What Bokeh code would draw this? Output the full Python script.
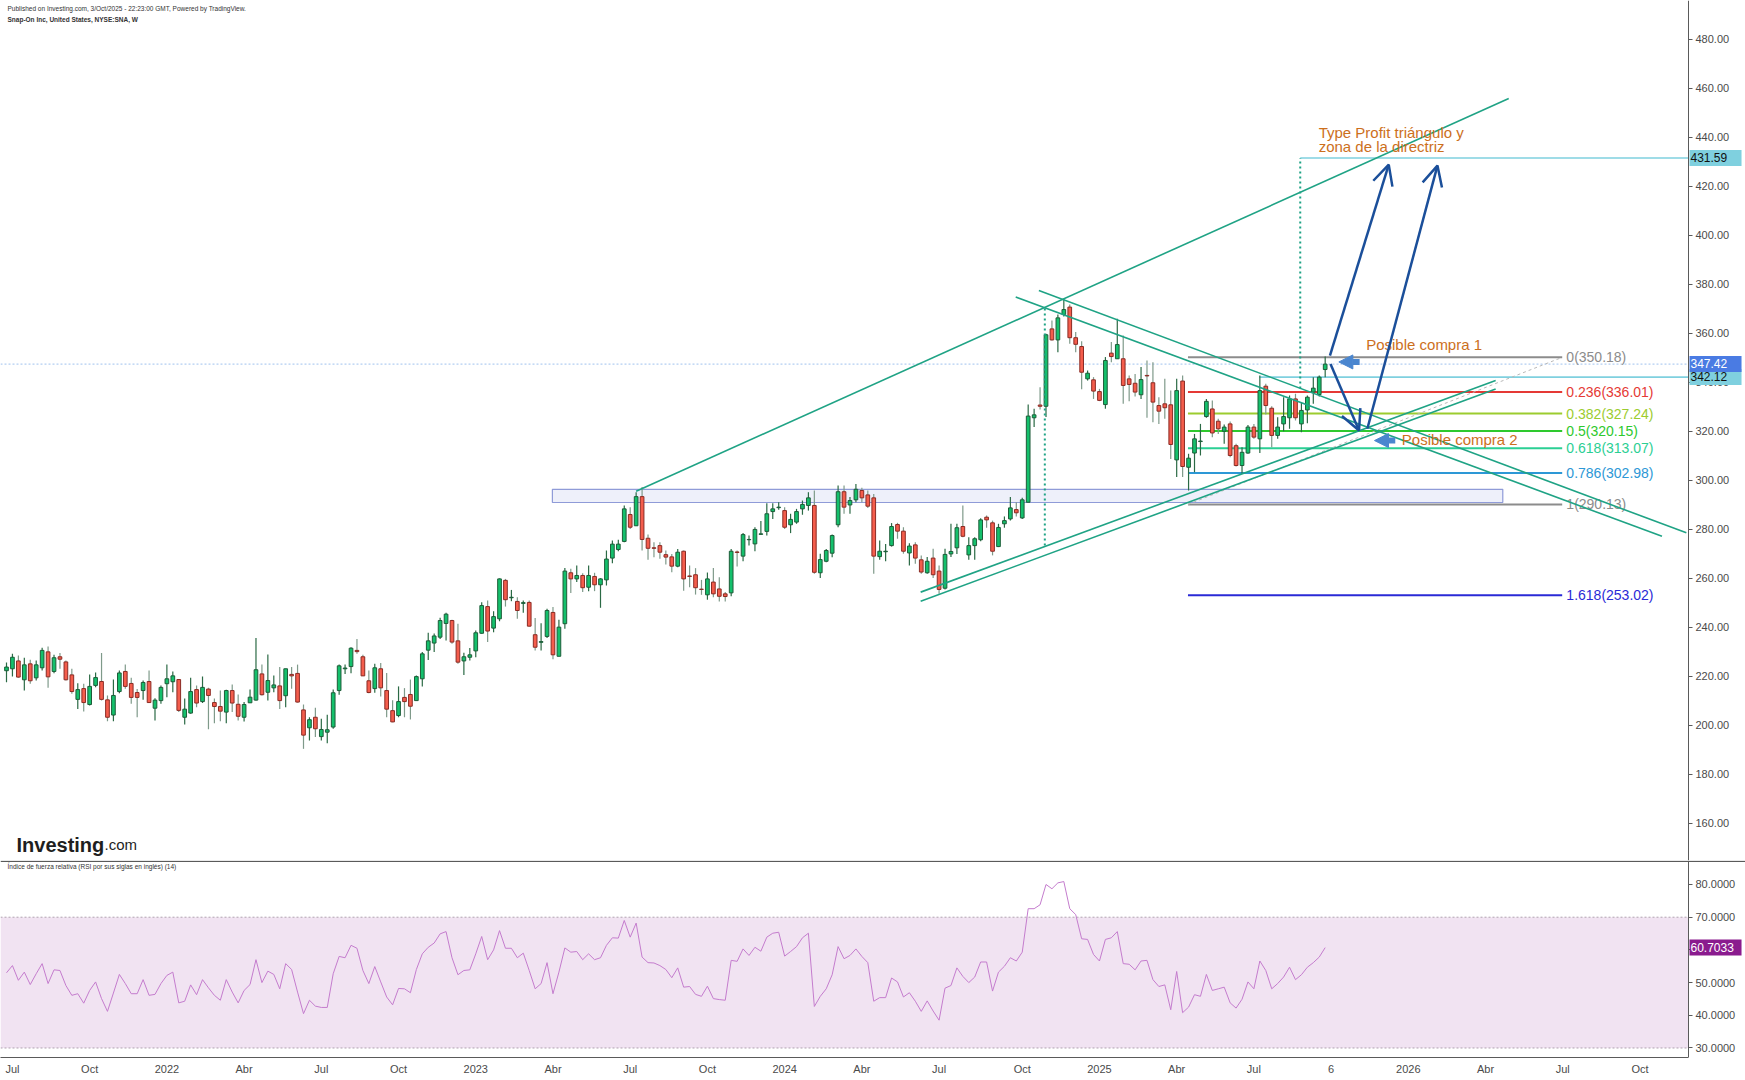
from bokeh.plotting import figure
from bokeh.models import (Range1d, FixedTicker, NumeralTickFormatter, Label, Span, LinearAxis,
                          BoxAnnotation, ColumnDataSource, Arrow, OpenHead, NormalHead)
from bokeh.layouts import column
from bokeh.embed import file_html
from bokeh.resources import INLINE
from bokeh.core.properties import value

FONT = "Liberation Sans"

# Weekly bars of Snap-On (NYSE:SNA); week index 0 = week of 2021-06-28
opens = [
    222.2, 223.0, 226.2, 218.5, 225.0, 219.3, 223.4, 229.9, 221.9, 227.9,
    225.8, 220.5, 210.5, 214.9, 208.4, 216.2, 217.8, 210.3, 204.1, 213.7,
    221.9, 217.0, 213.3, 214.1, 217.8, 206.9, 210.0, 216.9, 217.7, 218.6,
    203.2, 204.9, 214.5, 209.6, 214.7, 209.2, 207.6, 205.3, 214.1, 208.5,
    203.2, 209.1, 210.2, 220.9, 213.4, 215.2, 216.0, 212.0, 220.7, 221.1,
    206.2, 198.9, 203.2, 195.3, 197.1, 199.2, 214.1, 223.0, 223.9, 230.5,
    227.9, 218.1, 214.9, 223.0, 214.1, 205.9, 203.9, 211.3, 212.5, 210.0,
    218.9, 230.6, 233.5, 235.9, 241.5, 242.7, 234.4, 226.2, 227.7, 230.3,
    237.5, 248.4, 239.6, 243.4, 259.1, 252.0, 250.5, 249.7, 250.1, 236.9,
    233.8, 236.2, 246.0, 228.1, 241.4, 262.2, 259.7, 261.1, 256.3, 260.7,
    257.3, 259.3, 268.2, 271.7, 275.0, 286.0, 281.4, 293.3, 276.3, 272.4,
    273.3, 269.6, 268.7, 264.9, 271.0, 260.9, 261.4, 255.5, 253.2, 258.4,
    255.6, 253.6, 254.0, 270.7, 269.0, 275.7, 274.0, 277.9, 279.1, 287.2,
    288.8, 287.6, 281.8, 282.9, 288.3, 289.7, 289.7, 262.2, 266.9, 270.2,
    281.8, 295.3, 289.9, 292.0, 295.8, 294.0, 292.8, 268.8, 270.8, 273.3,
    281.9, 279.2, 270.3, 273.6, 267.5, 262.2, 268.2, 262.9, 255.9, 269.9,
    272.4, 281.1, 269.5, 273.3, 275.7, 284.9, 282.6, 272.9, 282.2, 284.2,
    288.0, 284.6, 291.0, 325.5, 330.7, 330.2, 361.8, 357.3, 367.7, 370.7,
    358.2, 354.6, 341.4, 341.0, 336.2, 330.9, 351.9, 349.6, 349.6, 341.4,
    339.6, 334.9, 342.8, 339.8, 330.5, 331.2, 330.8, 308.3, 340.5, 305.3,
    311.1, 315.8, 326.0, 329.1, 324.1, 320.0, 323.0, 314.1, 306.0, 311.1,
    321.7, 316.9, 338.4, 329.4, 318.3, 323.0, 325.5, 333.2, 323.0, 328.7,
    336.0, 335.0, 345.2]

highs = [
    225.6, 229.1, 228.4, 227.5, 226.7, 226.4, 231.6, 232.1, 228.7, 229.4,
    226.4, 223.0, 217.1, 216.9, 220.7, 221.5, 229.4, 212.1, 218.6, 222.3,
    224.7, 219.3, 214.7, 218.2, 222.3, 211.0, 216.2, 224.7, 221.9, 218.6,
    210.9, 219.3, 216.2, 219.8, 215.2, 210.9, 214.1, 214.4, 216.6, 212.5,
    209.4, 214.5, 235.6, 224.7, 228.8, 220.3, 223.7, 223.0, 223.7, 224.7,
    208.4, 203.2, 207.1, 202.6, 204.2, 214.5, 224.7, 224.7, 231.8, 235.2,
    228.7, 222.3, 225.0, 225.4, 221.3, 210.1, 215.8, 215.1, 218.6, 220.2,
    229.8, 237.7, 237.4, 243.8, 245.9, 243.0, 241.4, 229.5, 231.5, 238.6,
    250.2, 250.9, 246.5, 259.9, 259.7, 255.2, 252.2, 250.9, 250.9, 243.7,
    241.6, 247.5, 248.2, 243.0, 264.2, 263.8, 265.2, 262.0, 265.2, 262.2,
    260.0, 271.3, 275.4, 275.7, 289.7, 289.0, 295.1, 297.2, 277.8, 274.7,
    274.7, 271.3, 269.9, 271.9, 271.3, 265.2, 264.1, 259.3, 262.3, 264.2,
    260.4, 254.3, 271.9, 271.3, 278.4, 277.4, 280.8, 283.3, 290.6, 290.6,
    291.0, 289.0, 286.3, 288.3, 291.7, 295.1, 295.8, 270.0, 271.9, 277.8,
    297.8, 297.8, 293.1, 298.5, 296.9, 295.8, 294.4, 275.4, 274.0, 282.5,
    282.6, 280.8, 274.3, 274.7, 269.3, 268.6, 272.0, 265.2, 272.0, 282.2,
    282.2, 289.7, 276.7, 276.7, 284.5, 285.6, 283.5, 282.2, 285.2, 293.1,
    291.0, 292.8, 330.9, 329.2, 338.0, 359.8, 365.2, 367.7, 374.1, 371.8,
    360.5, 356.8, 344.8, 342.1, 337.3, 350.3, 356.4, 365.9, 359.1, 342.8,
    343.4, 346.2, 348.9, 348.2, 333.9, 341.4, 336.6, 341.4, 342.8, 310.8,
    318.9, 323.0, 333.2, 332.6, 325.1, 322.8, 324.0, 314.9, 313.5, 322.6,
    323.0, 342.8, 339.4, 330.2, 325.7, 333.9, 334.6, 335.3, 331.9, 334.6,
    342.1, 342.8, 350.5]

lows = [
    217.5, 219.8, 219.3, 214.1, 216.9, 218.2, 222.3, 215.2, 221.2, 223.0,
    218.2, 212.8, 206.6, 205.6, 208.0, 215.5, 210.0, 201.6, 201.6, 213.0,
    214.8, 208.7, 203.2, 210.3, 209.0, 201.9, 208.7, 211.4, 213.4, 205.3,
    200.2, 204.6, 207.3, 209.0, 198.3, 200.8, 201.6, 200.8, 205.3, 201.9,
    201.5, 209.0, 210.0, 212.1, 210.0, 213.4, 206.6, 207.3, 214.8, 209.2,
    190.3, 193.7, 195.1, 193.7, 192.6, 198.5, 212.4, 220.9, 221.2, 229.1,
    220.0, 213.0, 213.2, 211.7, 203.2, 201.2, 203.2, 203.2, 202.3, 210.0,
    215.8, 226.6, 229.8, 235.2, 234.5, 233.2, 225.0, 220.5, 226.4, 227.7,
    237.3, 233.9, 237.9, 242.4, 248.4, 250.6, 243.4, 245.9, 240.3, 230.5,
    230.5, 235.6, 226.9, 228.1, 239.3, 253.9, 258.4, 254.3, 254.7, 254.7,
    247.9, 257.0, 266.1, 271.0, 274.7, 280.1, 281.4, 271.3, 267.5, 268.5,
    267.9, 265.6, 262.4, 264.5, 254.9, 256.3, 253.3, 253.2, 251.2, 252.2,
    250.5, 250.5, 252.6, 264.8, 266.9, 273.3, 271.0, 277.8, 277.4, 284.2,
    287.9, 280.1, 278.4, 282.2, 285.9, 287.6, 261.8, 260.1, 266.5, 268.5,
    280.8, 286.3, 286.3, 291.0, 291.0, 288.7, 261.8, 267.5, 266.9, 272.9,
    276.1, 270.0, 265.2, 265.9, 261.8, 261.8, 260.1, 253.6, 255.4, 268.6,
    269.9, 276.7, 267.5, 267.5, 275.1, 280.6, 269.3, 272.7, 280.6, 283.5,
    285.2, 284.2, 291.0, 321.7, 328.9, 325.8, 357.1, 352.3, 366.9, 355.7,
    352.3, 337.1, 340.7, 333.2, 332.3, 329.2, 348.2, 349.6, 331.2, 332.3,
    334.2, 333.2, 325.5, 323.7, 323.0, 325.1, 308.7, 301.3, 301.3, 295.8,
    303.3, 310.1, 325.5, 317.5, 318.9, 314.9, 309.4, 305.6, 302.6, 310.8,
    316.9, 311.1, 326.8, 313.5, 316.9, 320.0, 321.0, 324.4, 319.6, 323.3,
    331.2, 334.2, 342.1]

closes = [
    223.7, 227.7, 219.6, 224.6, 218.1, 224.6, 230.5, 219.7, 227.5, 226.9,
    218.5, 213.7, 214.5, 209.2, 215.8, 219.4, 210.5, 203.2, 212.1, 221.3,
    215.8, 211.3, 211.3, 217.4, 209.2, 210.2, 215.4, 218.9, 220.1, 206.0,
    206.5, 213.7, 209.0, 215.4, 212.1, 207.6, 205.7, 214.1, 209.0, 203.6,
    208.4, 211.4, 222.6, 212.4, 218.2, 216.4, 210.0, 223.0, 220.1, 209.4,
    195.9, 202.2, 198.5, 198.2, 198.1, 213.2, 224.2, 223.3, 231.4, 230.0,
    220.1, 213.3, 223.4, 215.2, 206.5, 201.3, 209.6, 209.6, 207.7, 219.8,
    229.1, 234.4, 236.4, 242.7, 245.3, 233.9, 225.7, 227.9, 228.7, 237.7,
    248.8, 238.4, 244.3, 259.7, 251.2, 252.2, 246.8, 250.0, 240.4, 231.8,
    234.1, 246.8, 228.7, 240.0, 262.9, 259.7, 261.1, 256.1, 261.1, 257.3,
    259.7, 267.8, 273.9, 273.9, 288.3, 280.8, 293.3, 275.8, 272.2, 272.2,
    270.6, 268.6, 264.9, 270.6, 259.7, 260.7, 256.1, 255.4, 259.7, 253.6,
    252.6, 252.5, 271.0, 270.5, 277.8, 275.8, 279.9, 278.1, 286.3, 288.3,
    289.0, 280.8, 284.0, 287.2, 290.1, 292.8, 262.4, 267.6, 271.3, 277.4,
    295.3, 289.0, 291.7, 296.3, 292.8, 289.4, 269.0, 271.0, 271.0, 281.1,
    279.2, 271.0, 273.1, 268.2, 262.5, 266.9, 261.4, 255.4, 269.7, 270.9,
    280.6, 277.1, 273.3, 276.1, 283.8, 283.8, 271.0, 280.7, 283.5, 288.7,
    286.7, 292.0, 326.2, 326.7, 330.2, 359.4, 357.3, 366.3, 369.7, 358.2,
    355.5, 344.1, 343.7, 336.4, 332.6, 348.9, 350.5, 355.4, 338.7, 339.1,
    336.0, 341.1, 342.6, 331.9, 328.2, 329.6, 314.6, 336.6, 305.6, 309.0,
    316.9, 316.0, 332.2, 319.3, 321.0, 321.7, 310.1, 306.0, 311.4, 321.7,
    317.6, 336.6, 330.5, 318.3, 321.7, 326.0, 333.2, 325.5, 328.5, 333.9,
    337.6, 342.1, 347.42]

rsi_values = [
    53.0, 55.2, 50.7, 53.2, 49.4, 52.7, 55.8, 49.7, 53.9, 53.7,
    49.1, 46.1, 46.6, 43.7, 47.6, 50.2, 45.1, 41.2, 46.8, 52.5,
    49.7, 46.6, 46.6, 50.9, 46.1, 46.4, 49.7, 52.2, 53.2, 43.8,
    44.3, 49.3, 46.3, 50.9, 48.4, 46.1, 44.6, 50.9, 47.1, 43.8,
    47.6, 49.4, 57.0, 50.0, 53.5, 52.5, 48.1, 55.8, 54.0, 47.1,
    40.5, 44.6, 42.8, 42.4, 42.4, 52.7, 58.0, 57.6, 61.4, 60.5,
    53.7, 49.7, 54.9, 50.2, 45.6, 43.2, 48.2, 48.1, 46.9, 54.0,
    58.8, 60.8, 62.1, 64.9, 65.6, 57.6, 52.4, 53.7, 53.9, 58.8,
    64.1, 57.0, 60.0, 65.9, 60.5, 60.5, 57.6, 59.0, 53.7, 48.1,
    49.7, 56.1, 46.6, 53.2, 60.6, 59.3, 59.5, 57.0, 58.8, 57.0,
    57.6, 61.4, 63.7, 63.6, 69.0, 63.9, 68.2, 57.8, 56.1, 56.0,
    55.2, 54.0, 51.5, 54.5, 48.6, 48.8, 46.4, 45.8, 48.9, 45.1,
    44.8, 44.6, 56.8, 56.5, 60.3, 58.3, 60.8, 59.6, 63.9, 65.1,
    65.4, 58.1, 59.5, 61.0, 63.7, 65.1, 42.7, 45.8, 48.1, 52.4,
    61.0, 57.3, 58.3, 60.3, 58.0, 56.1, 44.3,
    45.4, 45.4, 51.4, 50.2, 45.6, 46.9, 44.3, 41.2, 44.4, 41.3,
    38.5, 48.3, 49.1, 54.5, 51.9, 50.0, 51.7, 56.3, 56.3, 47.4,
    53.2, 55.0, 57.6, 56.6, 59.3, 72.6, 72.6, 73.8, 80.0, 78.7,
    80.5, 80.9, 72.6, 70.8, 63.4, 63.2, 58.6, 56.6, 63.2, 63.7,
    65.6, 55.8, 55.6, 53.9, 56.6, 56.8, 50.9, 48.8, 49.3, 41.7,
    53.4, 40.8, 42.5, 46.3, 45.8, 52.5, 47.6, 48.1, 48.6, 43.8,
    42.2, 44.9, 50.2, 48.1, 56.6, 53.7, 48.1, 49.7, 51.7, 54.7,
    50.9, 52.4, 54.7, 56.1, 57.8, 60.7033]

# axis ticks (week index of first bar of each labelled month)
month_tick_weeks = [1, 14, 27, 40, 53, 66, 79, 92, 105, 118, 131, 144, 157, 171,
                    184, 197, 210, 223, 236, 249, 262, 275]
month_tick_labels = ["Jul", "Oct", "2022", "Abr", "Jul", "Oct", "2023", "Abr", "Jul",
                     "Oct", "2024", "Abr", "Jul", "Oct", "2025", "Abr", "Jul", "6",
                     "2026", "Abr", "Jul", "Oct"]
price_ticks = [160, 180, 200, 220, 240, 260, 280, 300, 320, 340, 360, 380, 400, 420, 440, 460, 480]
rsi_ticks = [30, 40, 50, 60, 70, 80]

# Fibonacci retracement drawing
fib_ratios = ["0", "0.236", "0.382", "0.5", "0.618", "0.786", "1", "1.618"]
fib_levels = [350.18, 336.01, 327.24, 320.15, 313.07, 302.98, 290.13, 253.02]
fib_colors = ["#8c8c8c", "#e53935", "#9ccc2f", "#2ec92e", "#2bcf94", "#2d98d6", "#8c8c8c", "#2a2ad6"]
fib_start_week = [198.9]
fib_end_week = [261.9]
fib_label_week = [262.6]

# trend lines (triangle + channel)
trend_x0 = [106.0, 169.9, 173.8, 153.9, 153.9]
trend_y0 = [295.5, 374.8, 377.5, 254.3, 250.6]
trend_x1 = [252.9, 278.7, 282.8, 250.7, 250.7]
trend_y1 = [455.9, 277.1, 278.5, 340.7, 337.3]

# support zone rectangle
zone_weeks = [91.9, 251.9]
zone_prices = [290.9, 296.3]

# horizontal levels
target_price = [431.59]
target_start = [217.8]
level_price = [342.12]
level_start = [210.9]
last_price = [347.42]
rsi_last = 60.7033

# dotted vertical projections
vline_x = [174.8, 217.8]
vline_y0 = [273.3, 337.5]
vline_y1 = [370.9, 431.59]

# path arrows
arrow_x0 = [222.9, 222.8, 229.1]
arrow_y0 = [347.5, 350.9, 321.0]
arrow_x1 = [227.7, 232.7, 240.9]
arrow_y1 = [320.3, 428.9, 428.5]

# "buy" markers (thick arrows pointing left)
buy_tip_x = [224.3, 230.3]
buy_tail_x = [227.8, 233.8]
buy_y = [348.3, 316.2]

notes_text = ["Type Profit triángulo y", "zona de la directriz", "Posible compra 1", "Posible compra 2"]
notes_x = [220.9, 220.9, 228.9, 234.9]
notes_y = [442.0, 436.4, 355.4, 316.6]

weeks = list(range(len(closes)))

# ---------------------------------------------------------------- figures
X0, X1 = -1.01, 292.76      # visible week span across the whole canvas width
AXIS_X = 283.16             # week position of the price scale
TAG_X = 283.33
FRAME_W = 1745

p = figure(frame_width=FRAME_W, frame_height=860, x_range=Range1d(X0, X1),
           y_range=Range1d(144.70, 495.91), y_axis_location=None,
           x_axis_location=None, output_backend="svg", toolbar_location=None,
           min_border_left=0, min_border_top=0, min_border_bottom=0, min_border_right=0)
p.grid.visible = False
p.outline_line_color = None


def style_y(ax):
    ax.major_label_text_font_size = "11px"
    ax.major_label_text_font = FONT
    ax.major_label_text_color = "#4a4a4a"
    ax.axis_line_color = "#5a5a5a"
    ax.major_tick_line_color = "#5a5a5a"
    ax.major_tick_in = 0
    ax.major_tick_out = 4
    ax.minor_tick_line_color = None
    ax.major_label_standoff = 3


ya = LinearAxis(fixed_location=AXIS_X, ticker=FixedTicker(ticks=price_ticks),
                formatter=NumeralTickFormatter(format="0.00"))
style_y(ya)
p.add_layout(ya, "right")

# support zone
p.quad(left=[zone_weeks[0]], right=[zone_weeks[1]], bottom=[zone_prices[0]], top=[zone_prices[1]],
       fill_color="#eef0fa", line_color="#8f9bd8", line_width=1.2)

# current price line
p.segment(x0=[X0], y0=last_price, x1=[AXIS_X], y1=last_price, line_color="#9fc1ee",
          line_dash="2 2", line_width=1)

# cyan levels
p.segment(x0=target_start, y0=target_price, x1=[AXIS_X], y1=target_price,
          line_color="#7fd0df", line_width=1.6)
p.segment(x0=level_start, y0=level_price, x1=[AXIS_X], y1=level_price,
          line_color="#7fd0df", line_width=1.6)

# fib lines
for lev, col in zip(fib_levels, fib_colors):
    p.segment(x0=fib_start_week, y0=[lev], x1=fib_end_week, y1=[lev], line_color=col, line_width=2)
p.text(x=fib_label_week * len(fib_levels), y=fib_levels,
       text=[f"{r}({v:.2f})" for r, v in zip(fib_ratios, fib_levels)],
       text_color=fib_colors, text_font=value(FONT), text_font_size="14px",
       text_baseline="middle", text_align="left")
p.segment(x0=fib_start_week, y0=[fib_levels[6]], x1=fib_end_week, y1=[fib_levels[0]],
          line_color="#b9b9b9", line_width=1, line_dash="3 3")

# candles
up = [i for i in weeks if closes[i] >= opens[i]]
dn = [i for i in weeks if closes[i] < opens[i]]
src_up = ColumnDataSource(dict(x=up, hi=[highs[i] for i in up], lo=[lows[i] for i in up],
                               top=[closes[i] for i in up], bot=[opens[i] for i in up]))
src_dn = ColumnDataSource(dict(x=dn, hi=[highs[i] for i in dn], lo=[lows[i] for i in dn],
                               top=[opens[i] for i in dn], bot=[closes[i] for i in dn]))
p.segment(x0="x", y0="lo", x1="x", y1="hi", source=src_up, line_color="#2b6a45", line_width=1.2)
p.segment(x0="x", y0="lo", x1="x", y1="hi", source=src_dn, line_color="#7f9a8a", line_width=1.2)
p.vbar(x="x", width=0.62, top="top", bottom="bot", source=src_up,
       fill_color="#14c06c", line_color="#1d5c38", line_width=1)
p.vbar(x="x", width=0.62, top="top", bottom="bot", source=src_dn,
       fill_color="#f45d4c", line_color="#8a2b24", line_width=1)

# trend lines
p.segment(x0=trend_x0, y0=trend_y0, x1=trend_x1, y1=trend_y1, line_color="#1fa385", line_width=1.6)

# dotted vertical projections
p.segment(x0=vline_x, y0=vline_y0, x1=vline_x, y1=vline_y1, line_color="#1fa385",
          line_width=2, line_dash="2 3")

# path arrows
for x0, y0, x1, y1 in zip(arrow_x0, arrow_y0, arrow_x1, arrow_y1):
    p.add_layout(Arrow(end=OpenHead(line_color="#1b4f9a", line_width=2.5, size=20),
                       x_start=x0, y_start=y0, x_end=x1, y_end=y1,
                       line_color="#1b4f9a", line_width=2.5))

# buy markers
for tx, ax_, yy in zip(buy_tip_x, buy_tail_x, buy_y):
    p.add_layout(Arrow(end=NormalHead(fill_color="#4a86cf", line_color="#4a86cf", size=14),
                       x_start=ax_, y_start=yy, x_end=tx, y_end=yy,
                       line_color="#4a86cf", line_width=6))

# notes
p.text(x=notes_x, y=notes_y, text=notes_text, text_color="#cc6f1c",
       text_font=value(FONT), text_font_size="15px", text_baseline="middle", text_align="left")

# header + logo
p.add_layout(Label(x=7, y=852.5, x_units="screen", y_units="screen",
                   text="Published on Investing.com, 3/Oct/2025 - 22:23:00 GMT, Powered by TradingView.",
                   text_font=FONT, text_font_size="6.5px", text_color="#333333", text_baseline="middle"))
p.add_layout(Label(x=7, y=841, x_units="screen", y_units="screen",
                   text="Snap-On Inc, United States, NYSE:SNA, W", text_font=FONT,
                   text_font_size="6.5px", text_font_style="bold", text_color="#333333",
                   text_baseline="middle"))
p.add_layout(Label(x=16, y=16, x_units="screen", y_units="screen", text="Investing",
                   text_font=FONT, text_font_size="20px", text_font_style="bold",
                   text_color="#1e1e1e", text_baseline="alphabetic"))
p.add_layout(Label(x=104, y=16, x_units="screen", y_units="screen", text=".com",
                   text_font=FONT, text_font_size="15px", text_color="#1e1e1e",
                   text_baseline="alphabetic"))


def axis_tag(fig, yv, txt, bg, fg):
    lab = Label(x=TAG_X, y=yv, x_units="data", y_units="data", text=txt,
                text_font=FONT, text_font_size="12px", text_color=fg,
                text_baseline="middle", text_align="left",
                background_fill_color=bg, background_fill_alpha=1.0)
    try:
        lab.padding = 1
    except Exception:
        pass
    fig.add_layout(lab)


axis_tag(p, target_price[0], " 431.59   ", "#7fd0df", "#111111")
axis_tag(p, level_price[0], " 342.12   ", "#7fd0df", "#111111")
axis_tag(p, last_price[0], " 347.42   ", "#4a7be3", "#ffffff")

# ---------------------------------------------------------------- RSI panel
r = figure(frame_width=FRAME_W, frame_height=197, x_range=p.x_range,
           y_range=Range1d(27.09, 87.34), y_axis_location=None,
           output_backend="svg", toolbar_location=None,
           min_border_left=0, min_border_top=0, min_border_right=0)
r.grid.visible = False
r.outline_line_color = None

r.add_layout(BoxAnnotation(left=X0, right=AXIS_X, bottom=30, top=70, fill_color="#f1e3f2",
                           fill_alpha=1.0, line_color=None, level="underlay"))
r.segment(x0=[X0, X0], y0=[70, 30], x1=[AXIS_X, AXIS_X], y1=[70, 30], line_color="#b0a2b0",
          line_dash="2 2", line_width=1)
r.add_layout(Span(location=87.1, dimension="width", line_color="#5a5a5a", line_width=1.2))
r.line(weeks, rsi_values, line_color="#c47ccd", line_width=1)

ry = LinearAxis(fixed_location=AXIS_X, ticker=FixedTicker(ticks=rsi_ticks),
                formatter=NumeralTickFormatter(format="0.0000"))
style_y(ry)
r.add_layout(ry, "right")

rx = r.xaxis[0]
rx.ticker = FixedTicker(ticks=month_tick_weeks)
rx.major_label_overrides = {w: lab for w, lab in zip(month_tick_weeks, month_tick_labels)}
rx.major_label_text_font_size = "11px"
rx.major_label_text_font = FONT
rx.major_label_text_color = "#4a4a4a"
rx.axis_line_color = "#5a5a5a"
rx.bounds = (X0, AXIS_X)
rx.major_tick_line_color = None
rx.minor_tick_line_color = None
rx.major_tick_in = 0
rx.major_tick_out = 0
rx.major_label_standoff = 5

r.add_layout(Label(x=7, y=191, x_units="screen", y_units="screen",
                   text="Índice de fuerza relativa (RSI por sus siglas en inglés) (14)",
                   text_font=FONT, text_font_size="6.5px", text_color="#333333",
                   text_baseline="middle"))
axis_tag(r, rsi_last, " 60.7033 ", "#8a1b8e", "#ffffff")

layout = column(p, r, spacing=0)
open("out.html", "w").write(file_html(layout, INLINE))
